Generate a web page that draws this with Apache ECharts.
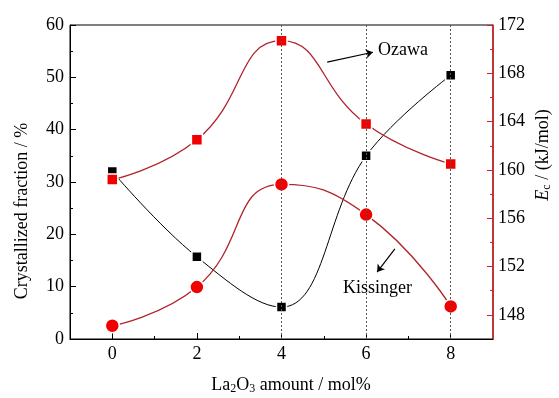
<!DOCTYPE html>
<html>
<head>
<meta charset="utf-8">
<script src="https://cdn.jsdelivr.net/npm/echarts@6/dist/echarts.min.js"></script>
<style>
  html, body { margin: 0; padding: 0; background: #fff; }
  #chart { width: 559px; height: 398px; }
</style>
</head>
<body>
<div id="chart"></div>
<script>
// La2O3 amount (mol%)
const amounts = [0, 2, 4, 6, 8]
// crystallized fraction, left axis (%)
const crystallized = [32.0, 15.7, 6.1, 35.0, 50.4]
// Ec by Ozawa / Kissinger, right axis (kJ/mol)
const ozawa = [159.2, 162.5, 170.7, 163.8, 160.5]
const kissinger = [147.1, 150.3, 158.8, 156.3, 148.7]
// tick labels
const xTicks = [0, 2, 4, 6, 8]
const xMinorTicks = [1, 3, 5, 7]
const rightTicks = [148, 152, 156, 160, 164, 168, 172]
const rightMinorTicks = [150, 154, 158, 162, 166, 170]
const guideLines = [4, 6, 8]

const serif = 'Liberation Serif'
const darkRed = '#b0232b'
const axisRed = '#d42020'

const pairs = (ys) => amounts.map((x, i) => [x, ys[i]])

const chart = echarts.init(document.getElementById('chart'))

const option = {
  animation: false,
  backgroundColor: '#fff',
  grid: {
    left: 70, right: 66, top: 25, bottom: 59,
    show: true, borderColor: '#000', borderWidth: 1
  },
  xAxis: [
    {
      type: 'value', min: -1, max: 9,
      axisLine: { onZero: false, lineStyle: { color: '#000', width: 1 } },
      axisTick: { inside: true, length: 6, customValues: xTicks, lineStyle: { color: '#000' } },
      axisLabel: { customValues: xTicks, color: '#000', fontFamily: serif, fontSize: 18, margin: 6 },
      splitLine: { show: false }
    },
    {
      // minor ticks only
      type: 'value', min: -1, max: 9, position: 'bottom',
      axisLine: { show: false, onZero: false },
      axisTick: { inside: true, length: 3, customValues: xMinorTicks, lineStyle: { color: '#000' } },
      axisLabel: { show: false },
      splitLine: { show: false }
    }
  ],
  yAxis: [
    {
      type: 'value', min: 0, max: 60, interval: 10,
      axisLine: { show: true, onZero: false, lineStyle: { color: '#000' } },
      axisTick: { inside: true, length: 6, lineStyle: { color: '#000' } },
      minorTick: { show: true, splitNumber: 2, length: 3, lineStyle: { color: '#000' } },
      axisLabel: { color: '#000', fontFamily: serif, fontSize: 18, margin: 6 },
      splitLine: { show: false }
    },
    {
      type: 'value', min: 146, max: 172, position: 'right',
      axisLine: { show: true, onZero: false, lineStyle: { color: axisRed, width: 1.5 } },
      axisTick: { inside: true, length: 6, customValues: rightTicks, lineStyle: { color: axisRed } },
      axisLabel: { customValues: rightTicks, color: '#000', fontFamily: serif, fontSize: 18, margin: 5 },
      splitLine: { show: false }
    },
    {
      // minor ticks only
      type: 'value', min: 146, max: 172, position: 'right',
      axisLine: { show: false, onZero: false },
      axisTick: { inside: true, length: 3, customValues: rightMinorTicks, lineStyle: { color: axisRed } },
      axisLabel: { show: false },
      splitLine: { show: false }
    }
  ],
  series: [
    {
      // dotted guides
      type: 'line', data: [], xAxisIndex: 0, yAxisIndex: 0, z: 1,
      markLine: {
        silent: true,
        symbol: 'none',
        label: { show: false },
        lineStyle: { color: '#555', width: 1, type: [2, 2] },
        data: guideLines.map(v => ({ xAxis: v }))
      }
    },
    {
      // annotation arrows
      type: 'line', data: [], xAxisIndex: 0, yAxisIndex: 0, z: 5,
      markLine: {
        silent: true,
        symbol: ['none', 'arrow'],
        symbolSize: 7,
        label: { show: false },
        lineStyle: { color: '#000', width: 1.2, type: 'solid' },
        data: [
          [{ coord: [5.08, 52.9] }, { coord: [6.16, 54.8] }],
          [{ coord: [6.68, 17.2] }, { coord: [6.26, 12.8] }]
        ]
      }
    },
    {
      name: 'Crystallized fraction',
      type: 'line', smooth: 0.4, yAxisIndex: 0, z: 3,
      data: pairs(crystallized),
      symbol: 'rect', symbolSize: 10,
      lineStyle: { color: '#000', width: 1 },
      itemStyle: { color: '#000', borderColor: '#fff', borderWidth: 1.5 }
    },
    {
      name: 'Ozawa',
      type: 'line', smooth: 0.5, yAxisIndex: 1, z: 3,
      data: pairs(ozawa),
      symbol: 'rect', symbolSize: 11,
      lineStyle: { color: darkRed, width: 1.3 },
      itemStyle: { color: '#f20000', borderColor: '#fff', borderWidth: 1.5 }
    },
    {
      name: 'Kissinger',
      type: 'line', smooth: 0.5, yAxisIndex: 1, z: 3,
      data: pairs(kissinger),
      symbol: 'circle', symbolSize: 14,
      lineStyle: { color: darkRed, width: 1.3 },
      itemStyle: { color: '#f20000', borderColor: '#fff', borderWidth: 1.5 }
    }
  ],
  graphic: [
    {
      type: 'text', left: 378, top: 41, z: 10,
      style: { text: 'Ozawa', font: '18px "Liberation Serif"', fill: '#000' }
    },
    {
      type: 'text', left: 343, top: 279, z: 10,
      style: { text: 'Kissinger', font: '18px "Liberation Serif"', fill: '#000' }
    },
    {
      type: 'text', x: 291, y: 385, z: 10,
      style: {
        text: '{a|La}{s|2}{a|O}{s|3}{a| amount / mol%}',
        align: 'center', verticalAlign: 'middle',
        rich: {
          a: { font: '18px "Liberation Serif"', fill: '#000' },
          s: { font: '12px "Liberation Serif"', fill: '#000', padding: [8, 0, 0, 0] }
        }
      }
    },
    {
      type: 'text', x: 22, y: 211, rotation: Math.PI / 2, z: 10,
      style: {
        text: 'Crystallized fraction / %',
        align: 'center', verticalAlign: 'middle',
        font: '18px "Liberation Serif"', fill: '#000'
      }
    },
    {
      type: 'text', x: 543, y: 155, rotation: Math.PI / 2, z: 10,
      style: {
        text: '{e|E}{s|c}{a| / (kJ/mol)}',
        align: 'center', verticalAlign: 'middle',
        rich: {
          e: { font: 'italic 18px "Liberation Serif"', fill: '#000' },
          s: { font: '12px "Liberation Serif"', fill: '#000', padding: [8, 0, 0, 0] },
          a: { font: '18px "Liberation Serif"', fill: '#000' }
        }
      }
    }
  ]
}

chart.setOption(option)
</script>
</body>
</html>
